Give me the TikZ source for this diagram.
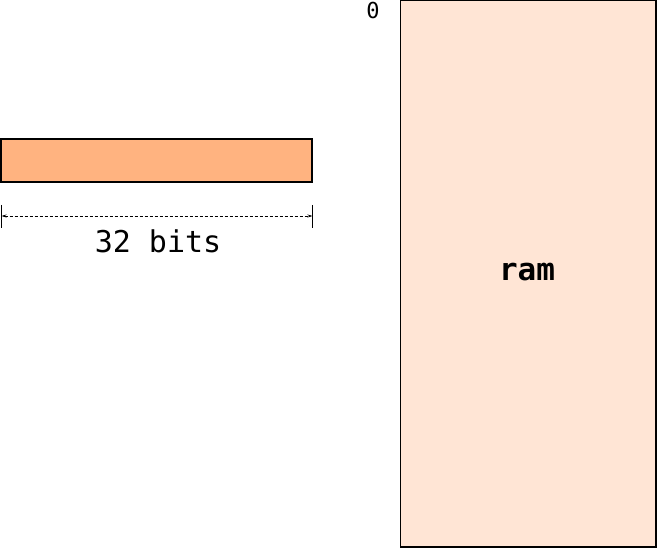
\documentclass[tikz,border=0pt]{standalone}
\usepackage{fontspec}
\setmonofont{DejaVu Sans Mono}
\usetikzlibrary{arrows.meta}
\definecolor{barfill}{HTML}{FFB380}
\definecolor{ramfill}{HTML}{FFE5D5}
\tikzset{
  boxstyle/.style={draw=black, line width=1.2pt},
  ticks/.style={draw=black, line width=0.8pt},
  dimline/.style={draw=black, line width=0.7pt, dash pattern=on 3pt off 2pt, {Stealth[length=5pt,width=3pt]}-{Stealth[length=5pt,width=3pt]}},
  lbl/.style={font=\ttfamily\fontsize{30}{32}\selectfont, inner sep=0pt},
}
\begin{document}
\begin{tikzpicture}[x=1pt,y=-1pt]
\useasboundingbox (0,0) rectangle (657,548);
% word bar
\draw[boxstyle, fill=barfill] (1,139) rectangle (312,182);
% dimension
\coordinate (L) at (1.5,216);
\coordinate (R) at (312.5,216);
\draw[ticks] (1.5,205) -- (1.5,228);
\draw[ticks] (312.5,205) -- (312.5,228);
\draw[dimline] (L) -- (R);
\node[lbl] (bits) at (158,241) {32 bits};
% ram
\draw[boxstyle, fill=ramfill] (400.5,0.5) rectangle (656,547);
\node[lbl, font=\ttfamily\bfseries\fontsize{31}{33}\selectfont] (ram) at (527,272) {ram};
\node[lbl, font=\ttfamily\fontsize{22}{24}\selectfont] (zero) at (373,10) {0};
\end{tikzpicture}
\end{document}
